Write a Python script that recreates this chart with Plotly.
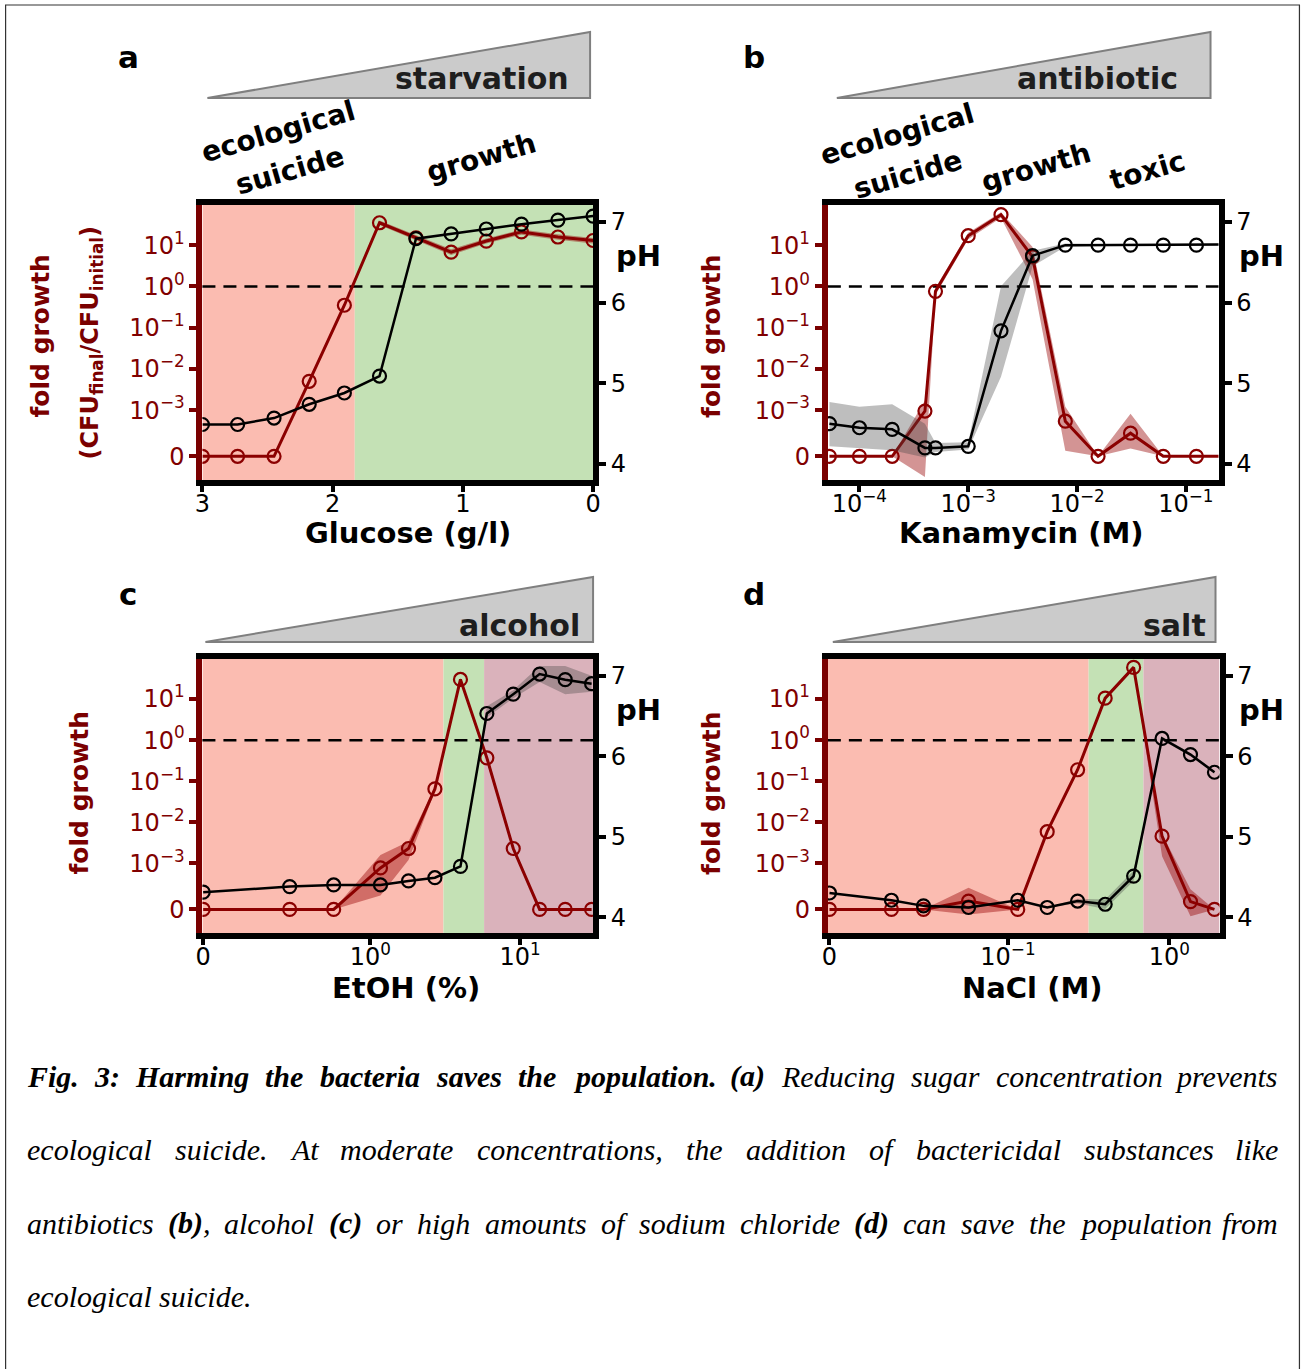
import math
import plotly.graph_objects as go

W, H = 1302, 1369

# ---------------- data ----------------
# (a) starvation: glucose (g/l)
glucose = [3.0, 2.73, 2.45, 2.18, 1.91, 1.64, 1.36, 1.09, 0.82, 0.55, 0.27, 0.0]
a_fold = [0, 0, 0, 0.005, 0.35, 35, 15, 6.8, 12.6, 21, 15.8, 13]
a_fold_lo = [0, 0, 0, 0.0045, 0.32, 31, 13, 5.8, 11, 18, 13.5, 11]
a_fold_hi = [0, 0, 0, 0.0056, 0.38, 40, 17.5, 8.0, 14.5, 24, 18.5, 15]
a_ph = [4.49, 4.49, 4.57, 4.74, 4.88, 5.09, 6.79, 6.85, 6.91, 6.97, 7.02, 7.07]
a_ph_lo = [4.49, 4.49, 4.57, 4.74, 4.88, 5.09, 6.79, 6.85, 6.91, 6.97, 7.02, 7.07]
a_ph_hi = [4.49, 4.49, 4.57, 4.74, 4.88, 5.09, 6.79, 6.85, 6.91, 6.97, 7.02, 7.07]
a_bounds = [1.83]
a_kinds = ["suicide", "growth"]

# (b) antibiotic: kanamycin (M)
kanamycin = [5.3e-5, 1e-4, 2e-4, 4e-4, 5e-4, 1e-3, 2e-3, 3.9e-3, 7.8e-3, 1.56e-2, 3.1e-2, 6.2e-2, 0.125, 0.25]
b_fold = [0, 0, 0, 0.00098, 0.76, 17, 55, 5.2, 0.00076, 0, 0.0005, 0, 0, 0]
b_fold_lo = [0, 0, 0, -0.00045, 0.62, 14, 46, 1.5, 0.00012, 0, 0.00017, 0, 0, 0]
b_fold_hi = [0, 0, 0, 0.0017, 0.92, 20, 63, 9.0, 0.0012, 0, 0.00092, 0, 0, 0]
b_ph = [4.50, 4.45, 4.43, 4.20, 4.20, 4.22, 5.65, 6.58, 6.71, 6.71, 6.71, 6.71, 6.71, 6.72]
b_ph_lo = [4.22, 4.20, 4.17, 4.08, 4.15, 4.18, 5.08, 6.45, 6.69, 6.70, 6.70, 6.70, 6.70, 6.71]
b_ph_hi = [4.77, 4.71, 4.74, 4.50, 4.26, 4.27, 6.20, 6.64, 6.73, 6.72, 6.72, 6.72, 6.72, 6.73]
b_bounds = [5.25e-4, 4.6e-3]
b_kinds = ["suicide", "growth", "toxic"]

# (c) alcohol: EtOH (%)
etoh = [0, 0.29, 0.57, 1.17, 1.8, 2.7, 4.0, 6.0, 9.0, 13.5, 20, 30]
c_fold = [0, 0, 0, 0.0009, 0.0023, 0.065, 30, 0.37, 0.0023, 0, 0, 0]
c_fold_lo = [0, 0, 0, 0.0003, 0.0012, 0.058, 27, 0.3, 0.002, 0, 0, 0]
c_fold_hi = [0, 0, 0, 0.0016, 0.0034, 0.072, 33, 0.45, 0.0027, 0, 0, 0]
c_ph = [4.31, 4.38, 4.40, 4.40, 4.45, 4.49, 4.63, 6.53, 6.77, 7.02, 6.95, 6.90]
c_ph_lo = [4.31, 4.38, 4.40, 4.40, 4.45, 4.49, 4.63, 6.48, 6.72, 6.92, 6.77, 6.80]
c_ph_hi = [4.31, 4.38, 4.40, 4.40, 4.45, 4.49, 4.63, 6.62, 6.82, 7.12, 7.12, 7.00]
c_bounds = [3.08, 5.75]
c_kinds = ["suicide", "growth", "toxic"]

# (d) salt: NaCl (M)
nacl = [0, 0.019, 0.03, 0.057, 0.115, 0.175, 0.27, 0.40, 0.60, 0.90, 1.35, 1.9]
d_fold = [0, 0, 0, 0.00018, 0, 0.0059, 0.19, 10.5, 59, 0.0046, 0.00017, 0]
d_fold_lo = [0, 0, 0, -0.00011, 0, 0.0055, 0.17, 9.5, 54, 0.0015, -0.00015, 0]
d_fold_hi = [0, 0, 0, 0.00047, 0, 0.0063, 0.21, 11.5, 64, 0.0052, 0.00044, 0]
d_ph = [4.30, 4.21, 4.14, 4.12, 4.21, 4.12, 4.20, 4.16, 4.51, 6.22, 6.02, 5.80]
d_ph_lo = [4.30, 4.21, 4.14, 4.12, 4.21, 4.12, 4.17, 4.10, 4.45, 6.20, 6.00, 5.78]
d_ph_hi = [4.30, 4.21, 4.14, 4.12, 4.21, 4.12, 4.23, 4.22, 4.58, 6.24, 6.04, 5.82]
d_bounds = [0.316, 0.69]
d_kinds = ["suicide", "growth", "toxic"]

fold_ticks = [0, 1e-3, 1e-2, 1e-1, 1, 10]
fold_ticktext = ["0", "10<sup>−3</sup>", "10<sup>−2</sup>", "10<sup>−1</sup>", "10<sup>0</sup>", "10<sup>1</sup>"]
ph_ticks = [4, 5, 6, 7]

# ---------------- styling ----------------
RED = "#8b0000"
DARKRED = "#7a0000"
BG = {"suicide": "#fbbcb1", "growth": "#c4e1b5", "toxic": "#dab2bb"}
SANS = "DejaVu Sans"

ZERO = -4.12  # symlog-like position of "0"


def fg(v):
    return math.log10(v) if v >= 1e-3 else ZERO + (v / 1e-3) * (-3 - ZERO)


def xs0(v, zero):
    return math.log10(v) if v > 0 else zero


# the rendered page is fitted slightly narrower; place things so they land where intended
FIT_S, FIT_O = 0.9886, 7.4


def X(px):
    return ((px - FIT_O) / FIT_S) / W


def Y(py):
    return 1 - py / H


fig = go.Figure()
layout = dict(
    width=W, height=H, margin=dict(l=0, r=0, t=0, b=0, pad=0),
    paper_bgcolor="white", plot_bgcolor="rgba(0,0,0,0)",
    showlegend=False, font=dict(family=SANS, color="black"),
)
shapes = []
annotations = []

C_ZERO = -1.115
D_ZERO = -2.105
panels = [
    dict(x=glucose, xt=list(glucose), fold=a_fold, lo=a_fold_lo, hi=a_fold_hi,
         ph=a_ph, phlo=a_ph_lo, phhi=a_ph_hi, bounds=a_bounds, kinds=a_kinds,
         xd=(202, 593), yd=(205, 480), xtype="linear", xrange=[3, 0],
         tv=[3, 2, 1, 0], tt=["3", "2", "1", "0"]),
    dict(x=kanamycin, xt=list(kanamycin), fold=b_fold, lo=b_fold_lo, hi=b_fold_hi,
         ph=b_ph, phlo=b_ph_lo, phhi=b_ph_hi, bounds=b_bounds, kinds=b_kinds,
         xd=(828, 1219), yd=(205, 480), xtype="log", xrange=[-4.29, -0.70],
         tv=[1e-4, 1e-3, 1e-2, 1e-1],
         tt=["10<sup>−4</sup>", "10<sup>−3</sup>", "10<sup>−2</sup>", "10<sup>−1</sup>"]),
    dict(x=etoh, xt=[xs0(v, C_ZERO) for v in etoh], fold=c_fold, lo=c_fold_lo, hi=c_fold_hi,
         ph=c_ph, phlo=c_ph_lo, phhi=c_ph_hi, bounds=c_bounds, kinds=c_kinds,
         xd=(202, 593), yd=(659, 933), xtype="linear", xrange=[-1.12, 1.487],
         tv=[C_ZERO, 0, 1], tt=["0", "10<sup>0</sup>", "10<sup>1</sup>"]),
    dict(x=nacl, xt=[xs0(v, D_ZERO) for v in nacl], fold=d_fold, lo=d_fold_lo, hi=d_fold_hi,
         ph=d_ph, phlo=d_ph_lo, phhi=d_ph_hi, bounds=d_bounds, kinds=d_kinds,
         xd=(828, 1220), yd=(659, 933), xtype="linear", xrange=[-2.115, 0.31],
         tv=[D_ZERO, -1, 0], tt=["0", "10<sup>−1</sup>", "10<sup>0</sup>"]),
]


def aid(prefix, n):
    return prefix if n == 1 else f"{prefix}{n}"


tickfont = dict(family=SANS, size=24, color="black")

for i, p in enumerate(panels):
    xn, yl, yr = i + 1, 2 * i + 1, 2 * i + 2
    xref, ylref, yrref = aid("x", xn), aid("y", yl), aid("y", yr)
    xs = p["xt"]

    # boundaries of coloured regions in axis units
    if p["xtype"] == "log" or i >= 2:
        inner = [math.log10(b) for b in p["bounds"]]
    else:
        inner = list(p["bounds"])
    edges = [p["xrange"][0]] + inner + [p["xrange"][1]]
    for k, kind in enumerate(p["kinds"]):
        shapes.append(dict(type="rect", xref=xref, yref=f"{ylref} domain",
                           x0=edges[k], x1=edges[k + 1], y0=0, y1=1,
                           fillcolor=BG[kind], line=dict(width=0), layer="below"))
    shapes.append(dict(type="line", xref=f"{xref} domain", yref=ylref,
                       x0=0, x1=1, y0=fg(1), y1=fg(1),
                       line=dict(color="black", width=2.5, dash="13px,8px"), layer="below"))

    # red fold-growth band + line
    fig.add_trace(go.Scatter(
        x=xs + xs[::-1], y=[fg(v) for v in p["hi"]] + [fg(v) for v in p["lo"]][::-1],
        fill="toself", fillcolor="rgba(150,0,0,0.42)", line=dict(width=0),
        mode="lines", hoverinfo="skip", xaxis=xref, yaxis=ylref))
    fig.add_trace(go.Scatter(
        x=xs, y=[fg(v) for v in p["fold"]], mode="lines+markers",
        line=dict(color=RED, width=3),
        marker=dict(symbol="circle-open", size=13, color=RED, line=dict(width=2.2)),
        xaxis=xref, yaxis=ylref))
    # black pH band + line
    fig.add_trace(go.Scatter(
        x=xs + xs[::-1], y=list(p["phhi"]) + list(p["phlo"])[::-1],
        fill="toself", fillcolor="rgba(70,70,70,0.35)", line=dict(width=0),
        mode="lines", hoverinfo="skip", xaxis=xref, yaxis=yrref))
    fig.add_trace(go.Scatter(
        x=xs, y=p["ph"], mode="lines+markers",
        line=dict(color="black", width=2.5),
        marker=dict(symbol="circle-open", size=13, color="black", line=dict(width=2.2)),
        xaxis=xref, yaxis=yrref))

    layout[aid("xaxis", xn)] = dict(
        domain=[X(p["xd"][0]), X(p["xd"][1])], anchor=ylref, type=p["xtype"],
        range=p["xrange"], showgrid=False, zeroline=False,
        showline=True, linecolor="black", linewidth=6, mirror=True,
        ticks="outside", ticklen=6, tickwidth=4, tickcolor="black",
        tickmode="array", tickvals=p["tv"], ticktext=p["tt"], tickfont=tickfont,
        ticklabelstandoff=-9)
    layout[aid("yaxis", yl)] = dict(
        domain=[Y(p["yd"][1]), Y(p["yd"][0])], anchor=xref,
        range=[-4.695, 1.975], showgrid=False, zeroline=False,
        showline=True, linecolor=DARKRED, linewidth=6,
        ticks="outside", ticklen=7, tickwidth=4, tickcolor=DARKRED,
        tickmode="array", tickvals=[fg(v) for v in fold_ticks], ticktext=fold_ticktext,
        tickfont=dict(family=SANS, size=24, color="#800000"))
    layout[aid("yaxis", yr)] = dict(
        domain=[Y(p["yd"][1]), Y(p["yd"][0])], anchor=xref, overlaying=ylref, side="right",
        range=[3.803, 7.207], showgrid=False, zeroline=False,
        showline=True, linecolor="black", linewidth=6,
        ticks="outside", ticklen=7, tickwidth=4, tickcolor="black",
        tickmode="array", tickvals=ph_ticks, ticktext=[str(t) for t in ph_ticks],
        tickfont=tickfont)


def ann(text, px, py, size, color="black", angle=0, family=SANS, xanchor="center"):
    annotations.append(dict(text=text, x=X(px), y=Y(py), xref="paper", yref="paper",
                            showarrow=False, xanchor=xanchor, yanchor="middle",
                            textangle=angle, borderpad=0,
                            font=dict(family=family, size=size, color=color)))


# panel letters
for t, (px, py) in zip("abcd", [(128, 57), (754, 57), (128, 594), (754, 594)]):
    ann(f"<b>{t}</b>", px, py, 31)

# wedge triangles with labels
wedges = [((207, 98), (590, 32), "starvation", (482, 79)),
          ((837, 98), (1211, 32), "antibiotic", (1098, 78)),
          ((205, 642), (593, 577), "alcohol", (519, 625)),
          ((833, 642), (1216, 577), "salt", (1175, 625))]
for (lx, ly), (rx, ry), lab, (tx, ty) in wedges:
    path = f"M {X(lx)},{Y(ly)} L {X(rx)},{Y(ry)} L {X(rx)},{Y(ly)} Z"
    shapes.append(dict(type="path", xref="paper", yref="paper", path=path,
                       fillcolor="#cbcbcb", line=dict(color="#7f7f7f", width=2)))
    ann(f"<b>{lab}</b>", tx, ty, 30, color="#1e1e1e")

# regime labels (rotated)
for lab, (px, py) in [("ecological", (278, 131)), ("suicide", (289, 170)), ("growth", (481, 157)),
                      ("ecological", (897, 134)), ("suicide", (908, 174)), ("growth", (1036, 168)),
                      ("toxic", (1148, 171))]:
    ann(f"<b>{lab}</b>", px, py, 28, angle=-16)

# y titles
ann("<b>fold growth</b>", 39, 336, 25, color=DARKRED, angle=-90)
ann("<b>(CFU<sub>final</sub>/CFU<sub>initial</sub>)</b>", 91, 343, 24, color=DARKRED, angle=-90)
ann("<b>fold growth</b>", 711, 336, 25, color=DARKRED, angle=-90)
ann("<b>fold growth</b>", 78, 793, 25, color=DARKRED, angle=-90)
ann("<b>fold growth</b>", 711, 793, 25, color=DARKRED, angle=-90)
# pH labels
for px, py in [(638, 256), (1262, 256), (638, 710), (1262, 710)]:
    ann("<b>pH</b>", px, py, 29)
# x titles
ann("<b>Glucose (g/l)</b>", 408, 533, 29)
ann("<b>Kanamycin (M)</b>", 1022, 533, 29)
ann("<b>EtOH (%)</b>", 406, 988, 29)
ann("<b>NaCl (M)</b>", 1033, 988, 29)

# outer border
shapes.append(dict(type="rect", xref="paper", yref="paper", x0=X(5), x1=X(1300), y0=Y(1372), y1=Y(5),
                   line=dict(color="#333333", width=1.2), fillcolor="rgba(0,0,0,0)"))

# ---------------- caption (justified, word by word) ----------------
IT = {' ': 250, ',': 250, '.': 250, ':': 333, '(': 333, ')': 333, 'A': 611, 'F': 611, 'H': 722,
      'R': 611, 'a': 500, 'b': 500, 'c': 444, 'd': 500, 'e': 444, 'f': 278, 'g': 500, 'h': 500,
      'i': 278, 'j': 278, 'k': 444, 'l': 278, 'm': 722, 'n': 500, 'o': 500, 'p': 500, 'q': 500,
      'r': 389, 's': 389, 't': 278, 'u': 500, 'v': 444, 'w': 667, 'x': 444, 'y': 444, 'z': 389}
BI = {' ': 250, ',': 250, '.': 250, ':': 333, '(': 333, ')': 333, 'F': 667, 'H': 778, 'a': 500,
      'b': 500, 'c': 444, 'd': 500, 'e': 444, 'f': 333, 'g': 500, 'h': 556, 'i': 278, 'l': 278,
      'm': 778, 'n': 556, 'o': 500, 'p': 500, 'r': 389, 's': 389, 't': 278, 'u': 556, 'v': 444,
      'y': 444}
CAP_FS = 30
caption_lines = [
    [("Fig. 3: Harming the bacteria saves the population. (a)", True),
     (" Reducing sugar concentration prevents", False)],
    [("ecological suicide. At moderate concentrations, the addition of bactericidal substances like", False)],
    [("antibiotics ", False), ("(b)", True), (", alcohol ", False), ("(c)", True),
     (" or high amounts of sodium chloride ", False), ("(d)", True), (" can save the population from", False)],
    [("ecological suicide.", False)],
]
caption_y = [1076, 1149, 1223, 1296]
LEFT, RIGHT = 25, 1280


def words_of(segs):
    words, cur = [], []
    for text, bold in segs:
        buf = ""
        for ch in text:
            if ch == " ":
                if buf:
                    cur.append((buf, bold))
                    buf = ""
                if cur:
                    words.append(cur)
                    cur = []
            else:
                buf += ch
        if buf:
            cur.append((buf, bold))
    if cur:
        words.append(cur)
    return words


def wwidth(word):
    tot = 0
    for text, bold in word:
        tab = BI if bold else IT
        tot += sum(tab.get(ch, 500) for ch in text)
    return tot * CAP_FS / 1000


for li, (segs, cy) in enumerate(zip(caption_lines, caption_y)):
    words = words_of(segs)
    widths = [wwidth(w) for w in words]
    justify = li < len(caption_lines) - 1
    gap = (RIGHT - LEFT - sum(widths)) / (len(words) - 1) if justify else 250 * CAP_FS / 1000
    xpos = LEFT
    for wi, (w, wd) in enumerate(zip(words, widths)):
        html = "".join(f"<b>{t}</b>" if b else t for t, b in w)
        html = f"<i>{html}</i>"
        if justify and wi == len(words) - 1:
            ann(html, RIGHT, cy, CAP_FS, family="Liberation Serif", xanchor="right")
        else:
            ann(html, xpos, cy, CAP_FS, family="Liberation Serif", xanchor="left")
        xpos += wd + gap

layout["shapes"] = shapes
layout["annotations"] = annotations
fig.update_layout(**layout)
fig.write_html(
    "out.html",
    config={"displayModeBar": False},
    post_script=("document.documentElement.style.margin='0px';"
                 "document.documentElement.style.overflow='hidden';"
                 "document.body.style.margin='0px';document.body.style.overflow='hidden';"),
)
